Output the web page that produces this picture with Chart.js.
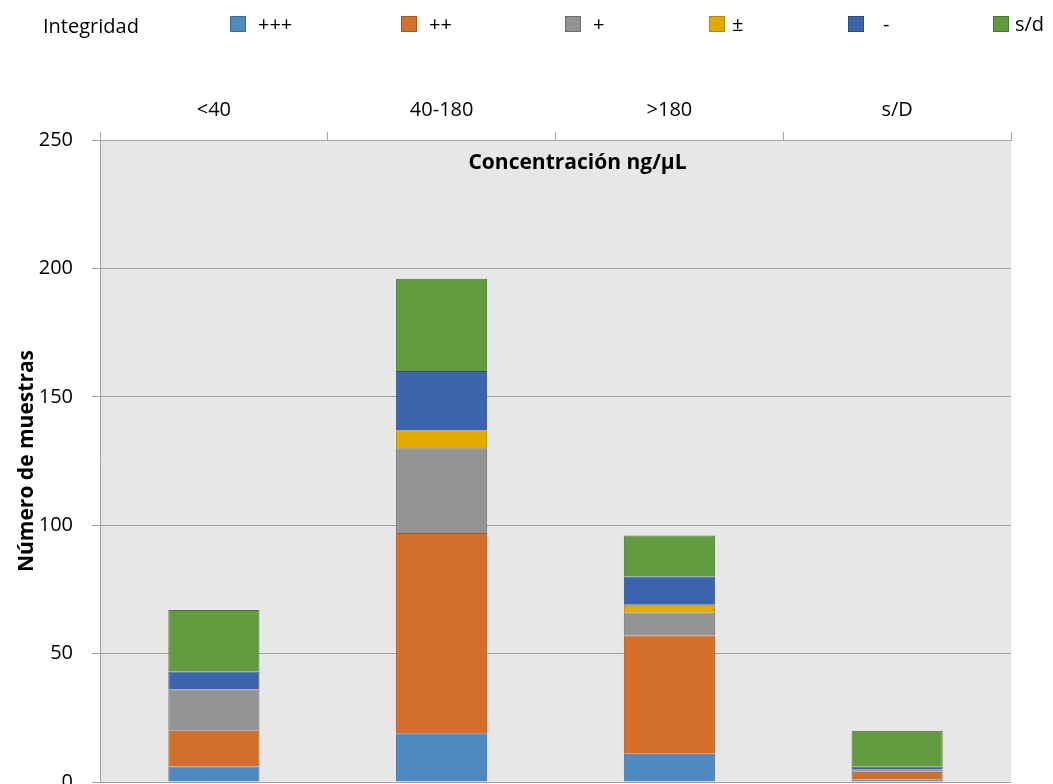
<!DOCTYPE html>
<html>
<head>
<meta charset="utf-8">
<script src="https://cdn.jsdelivr.net/npm/chart.js@4"></script>
<style>
  html, body { margin: 0; padding: 0; background: #fff; overflow: hidden; }
  #wrap { position: relative; width: 1053px; height: 830px; }
</style>
</head>
<body>
<div id="wrap"><canvas id="chart"></canvas></div>
<script>
const categories = ['<40', '40-180', '>180', 's/D'];
const seriesNames = ['+++', '++', '+', '±', '-', 's/d'];
const plusPlusPlus = [6, 19, 11, 1];
const plusPlus = [14, 78, 46, 3];
const plus = [16, 33, 9, 1];
const plusMinus = [0, 7, 3, 0];
const minus = [7, 23, 11, 1];
const sinDato = [24, 36, 16, 14];
const yTicks = [0, 50, 100, 150, 200, 250];

const fills = ['#4f89c1', '#d46f2b', '#949494', '#e3aa00', '#3b64ac', '#629a3f'];
const edges = ['#3b6d99', '#a9561f', '#6f6f6f', '#b38600', '#2b4a82', '#4a7630'];
// legend box and text x positions
const legendBoxX = [230, 401, 565, 709, 848, 993];
const legendTextX = [258, 429, 593, 732, 883, 1015];

const values = [plusPlusPlus, plusPlus, plus, plusMinus, minus, sinDato];
const font = 'Open Sans';

const plotBg = {
  id: 'plotBg',
  beforeDraw(chart) {
    const { ctx, chartArea: a } = chart;
    ctx.save();
    ctx.fillStyle = '#e7e7e7';
    ctx.fillRect(a.left, a.top, a.right - a.left, a.bottom - a.top);
    ctx.restore();
  }
};

const extras = {
  id: 'extras',
  afterDraw(chart) {
    const { ctx, chartArea: a } = chart;
    ctx.save();
    ctx.fillStyle = '#000';
    ctx.textBaseline = 'middle';
    ctx.font = 'bold 21px "' + font + '"';
    ctx.textAlign = 'center';
    ctx.fillText('Concentración ng/µL', (a.left + a.right) / 2 + 22, a.top + 23);

    ctx.font = '20px "' + font + '"';
    ctx.textAlign = 'left';
    ctx.fillText('Integridad', 43, 27);
    seriesNames.forEach((name, i) => {
      const x = legendBoxX[i];
      ctx.fillStyle = fills[i];
      ctx.fillRect(x, 16, 16, 16);
      ctx.strokeStyle = edges[i];
      ctx.lineWidth = 1;
      ctx.strokeRect(x + 0.5, 16.5, 15, 15);
      ctx.fillStyle = '#000';
      ctx.fillText(name, legendTextX[i], 25);
    });
    ctx.restore();
  }
};

new Chart(document.getElementById('chart'), {
  type: 'bar',
  data: {
    labels: categories,
    datasets: seriesNames.map((name, i) => ({
      label: name,
      data: values[i],
      backgroundColor: fills[i],
      borderColor: edges[i],
      borderWidth: 1,
      barPercentage: 0.4,
      categoryPercentage: 1
    }))
  },
  options: {
    responsive: true,
    maintainAspectRatio: false,
    animation: false,
    layout: { padding: { top: 60, right: 42, bottom: 48, left: 0 } },
    plugins: {
      legend: { display: false },
      tooltip: { enabled: false }
    },
    scales: {
      x: {
        position: 'top',
        stacked: true,
        afterFit(scale) { scale.height = 80; },
        grid: {
          offset: true,
          drawOnChartArea: false,
          tickLength: 8,
          color: '#a6a6a6'
        },
        border: { color: '#a6a6a6' },
        ticks: {
          color: '#000',
          padding: 10,
          font: { family: font, size: 20 }
        }
      },
      y: {
        stacked: true,
        min: 0,
        max: 250,
        afterFit(scale) { scale.width = 100; },
        afterBuildTicks(scale) { scale.ticks = yTicks.map(v => ({ value: v })); },
        grid: { color: '#a0a0a0', tickLength: 8 },
        border: { color: '#a0a0a0' },
        ticks: {
          color: '#000',
          padding: 19,
          font: { family: font, size: 20 }
        },
        title: {
          display: true,
          text: 'Número de muestras',
          color: '#000',
          padding: { top: 14, bottom: 0 },
          font: { family: font, size: 21, weight: 'bold' }
        }
      }
    }
  },
  plugins: [plotBg, extras]
});
</script>
</body>
</html>
